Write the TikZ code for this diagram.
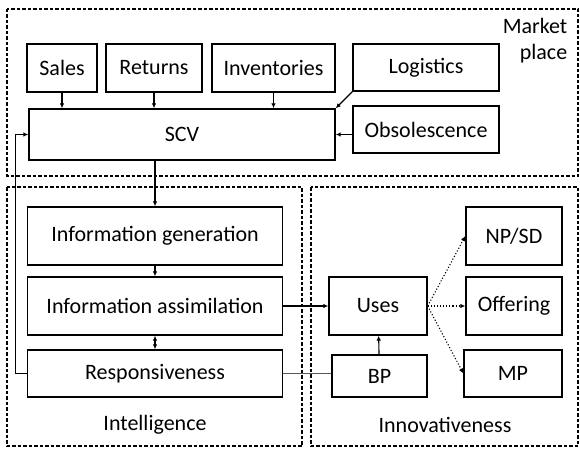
\documentclass[tikz,border=0pt]{standalone}
\usepackage{fontspec}
\setmainfont{Carlito}
\usetikzlibrary{arrows.meta}

\begin{document}
\begin{tikzpicture}[x=1pt,y=-1pt,
	box/.style={draw,line width=1.3pt,inner sep=0pt,font=\fontsize{22}{25}\selectfont},
	zone/.style={draw,line width=1.1pt,dash pattern=on 3.5pt off 2pt},
	arr/.style={line width=1.1pt,-{Latex[length=5pt,width=4.5pt]}},
	lbl/.style={font=\fontsize{22}{26}\selectfont,align=right,inner sep=0pt}]
	\useasboundingbox (0,0) rectangle (580,449);
	% dashed areas
	\draw[zone] (7,9) rectangle (578,176);
	\draw[zone] (7,187) rectangle (302,446);
	\draw[zone] (311,187) rectangle (578,446);
	\node[lbl] (market) at (535,41) {Market\\place};
	\node[lbl] (intel) at (155,425) {Intelligence};
	\node[lbl] (innov) at (445,425) {Innovativeness};
	
	% market place
	\node[box,minimum width=70pt,minimum height=48pt] (sales) at (62,68) {Sales};
	\node[box,minimum width=96pt,minimum height=48pt] (returns) at (154,68) {Returns};
	\node[box,minimum width=123pt,minimum height=48pt] (inventories) at (273.5,68) {Inventories};
	\node[box,minimum width=146pt,minimum height=47pt] (logistics) at (426,67.5) {Logistics};
	\node[box,minimum width=306pt,minimum height=51pt] (scv) at (182,134.5) {SCV};
	\node[box,minimum width=146pt,minimum height=47pt] (obsolescence) at (426,129.5) {Obsolescence};
	
	% intelligence
	\node[box,minimum width=255pt,minimum height=58pt] (infogen) at (155,236) {Information generation};
	\node[box,minimum width=255pt,minimum height=58pt] (infoassim) at (155,306) {Information assimilation};
	\node[box,minimum width=255pt,minimum height=47pt] (respons) at (155,373.5) {Responsiveness};
	
	% innovativeness
	\node[box,minimum width=98pt,minimum height=58pt] (uses) at (378,306) {Uses};
	\node[box,minimum width=95pt,minimum height=42pt] (bp) at (379.5,376) {BP};
	\node[box,minimum width=96pt,minimum height=58pt] (npsd) at (514,236) {NP/SD};
	\node[box,minimum width=96pt,minimum height=58pt] (offering) at (514,306) {Offering};
	\node[box,minimum width=98pt,minimum height=47pt] (mp) at (513,373.5) {MP};
	
	\draw[arr] (sales) -- (sales |- scv.north);
	\draw[arr] (returns) -- (returns |- scv.north);
	\draw[arr] (inventories) -- (inventories |- scv.north);
	\draw[arr] (logistics.south west) -- (scv.north east);
	\draw[arr] (obsolescence.west |- scv.east) -- (scv.east);
	\draw[arr] (infogen.north |- scv.south) -- (infogen.north);
	\draw[arr] (infogen) -- (infoassim);
	\draw[line width=1.1pt,{Latex[length=5pt,width=4.5pt]}-{Latex[length=5pt,width=4.5pt]}] (infoassim) -- (respons);
	\draw[arr] (respons.west) -- ++(-11,0) |- (scv.west);
	\draw[arr] (infoassim) -- (uses);
	\draw[line width=1.8pt,gray!70!black] (respons.east) -- (bp.west |- respons.east);
	\draw[arr] (bp) -- (uses);
	\draw[arr,dotted] (uses.east) -- (npsd.west);
	\draw[arr,dotted] (uses.east) -- (offering.west);
	\draw[arr,dotted] (uses.east) -- (mp.west);
\end{tikzpicture}
\end{document}
